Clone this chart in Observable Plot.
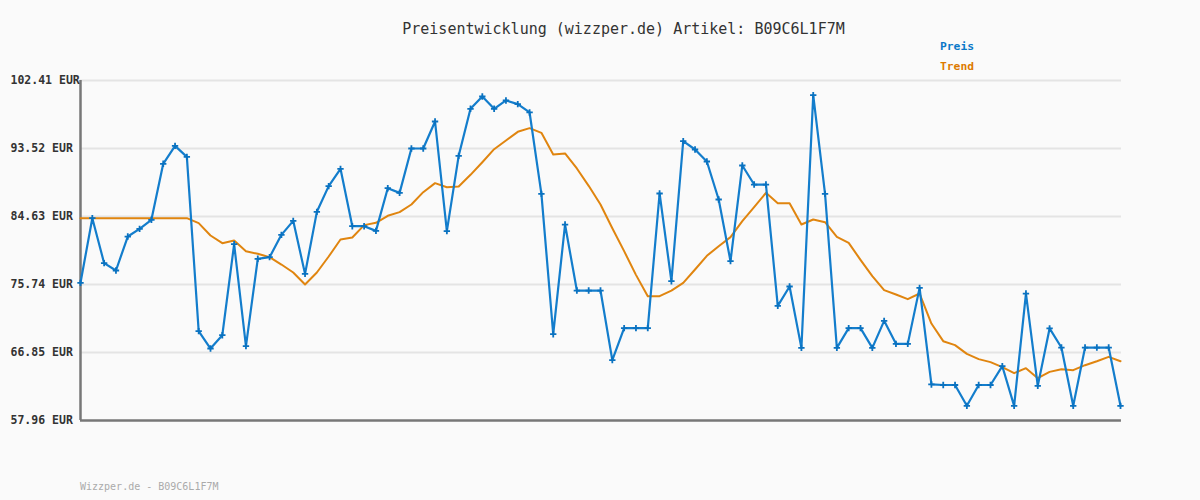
<!DOCTYPE html>
<html>
<head>
<meta charset="utf-8">
<script src="https://cdn.jsdelivr.net/npm/d3@7"></script>
<script src="https://cdn.jsdelivr.net/npm/@observablehq/plot@0.6"></script>
<style>
  html, body { margin: 0; padding: 0; background: #fafafa; }
  #wrap { position: relative; width: 1200px; height: 500px; background: #fafafa; overflow: hidden; }
  .t { position: absolute; white-space: pre; font-family: "DejaVu Sans Mono", "Liberation Mono", monospace; }
  #title { left: 0; width: 1247px; text-align: center; top: 20px; font-size: 15px; color: #333; }
  .leg { left: 940px; font-size: 11.3px; font-weight: bold; }
  #footer { left: 80px; top: 481px; font-size: 10px; color: #aaa; }
</style>
</head>
<body>
<div id="wrap">
  <div id="chart"></div>
  <div class="t" id="title">Preisentwicklung (wizzper.de) Artikel: B09C6L1F7M</div>
  <div class="t leg" style="top:40px;color:#0a78c8">Preis</div>
  <div class="t leg" style="top:60px;color:#dd7a00">Trend</div>
  <div class="t" id="footer">Wizzper.de - B09C6L1F7M</div>
</div>
<script>
const preis = [
  75.96, 84.41, 78.53, 77.57, 82.01, 83.02, 84.20, 91.52, 93.87, 92.43,
  69.64, 67.37, 69.11, 81.01, 67.68, 79.10, 79.31, 82.23, 84.06, 77.13,
  85.24, 88.60, 90.86, 83.36, 83.36, 82.75, 88.33, 87.72, 93.52, 93.52,
  97.05, 82.71, 92.56, 98.71, 100.32, 98.71, 99.80, 99.32, 98.23, 87.59,
  69.24, 83.58, 74.95, 74.95, 74.95, 65.85, 70.03, 70.03, 70.03, 87.64,
  76.17, 94.48, 93.39, 91.82, 86.85, 78.79, 91.30, 88.81, 88.81, 72.95,
  75.48, 67.46, 100.49, 87.59, 67.46, 70.03, 70.03, 67.46, 70.99, 67.98,
  67.98, 75.30, 62.67, 62.60, 62.60, 59.88, 62.60, 62.60, 65.06, 59.88,
  74.56, 62.49, 70.00, 67.50, 59.88, 67.50, 67.50, 67.50, 59.88
];
const trend = [
  84.41, 84.41, 84.41, 84.41, 84.41, 84.41, 84.41, 84.41, 84.41, 84.41,
  83.76, 82.15, 81.14, 81.49, 80.10, 79.75, 79.31, 78.35, 77.31, 75.74,
  77.31, 79.40, 81.62, 81.88, 83.50, 83.80, 84.72, 85.20, 86.20, 87.81,
  88.99, 88.46, 88.55, 90.08, 91.73, 93.43, 94.57, 95.70, 96.18, 95.57,
  92.74, 92.87, 90.91, 88.64, 86.20, 83.10, 80.10, 77.00, 74.21, 74.21,
  74.95, 75.96, 77.70, 79.49, 80.75, 81.93, 84.02, 85.85, 87.72, 86.37,
  86.37, 83.58, 84.24, 83.89, 81.97, 81.19, 78.96, 76.83, 75.00, 74.43,
  73.82, 74.56, 70.64, 68.33, 67.81, 66.67, 65.98, 65.59, 64.93, 64.15,
  64.80, 63.49, 64.32, 64.67, 64.54, 65.19, 65.71, 66.28, 65.71
];
const yTicks = [57.96, 66.85, 75.74, 84.63, 93.52, 102.41];
const yLabels = ["57.96 EUR", "66.85 EUR", "75.74 EUR", "84.63 EUR", "93.52 EUR", "102.41 EUR"];

const preisData = preis.map((v, i) => ({i, v}));
const trendData = trend.map((v, i) => ({i, v}));
const tickData = yTicks.map((v, k) => ({v, label: yLabels[k]}));

const chart = Plot.plot({
  width: 1200,
  height: 500,
  marginLeft: 80,
  marginRight: 80,
  marginTop: 80,
  marginBottom: 80,
  style: {background: "#fafafa", fontFamily: "DejaVu Sans Mono, monospace"},
  x: {domain: [0, preis.length - 1], axis: null},
  y: {domain: [yTicks[0], yTicks[yTicks.length - 1]], axis: null},
  marks: [
    Plot.ruleY(yTicks.slice(1), {stroke: "#e4e4e4", strokeWidth: 2, x1: 0, x2: preis.length - 0.92}),
    Plot.ruleX([0], {stroke: "#777", strokeWidth: 2.5, y1: yTicks[0], y2: yTicks[yTicks.length - 1]}),
    Plot.ruleY([yTicks[0]], {stroke: "#777", strokeWidth: 2.5, x1: 0, x2: preis.length - 0.92}),
    Plot.text(tickData, {x: 0, y: "v", text: "label", textAnchor: "start", dx: -70, fontSize: 11.5, fontWeight: "bold", fill: "#333"}),
    Plot.line(trendData, {x: "i", y: "v", stroke: "#e0850f", strokeWidth: 2}),
    Plot.line(preisData, {x: "i", y: "v", stroke: "#137dcc", strokeWidth: 2.2}),
    Plot.dot(preisData, {x: "i", y: "v", symbol: "plus", r: 2.2, stroke: "#0a72c0", strokeWidth: 1.8})
  ]
});
document.getElementById("chart").appendChild(chart);
</script>
</body>
</html>
